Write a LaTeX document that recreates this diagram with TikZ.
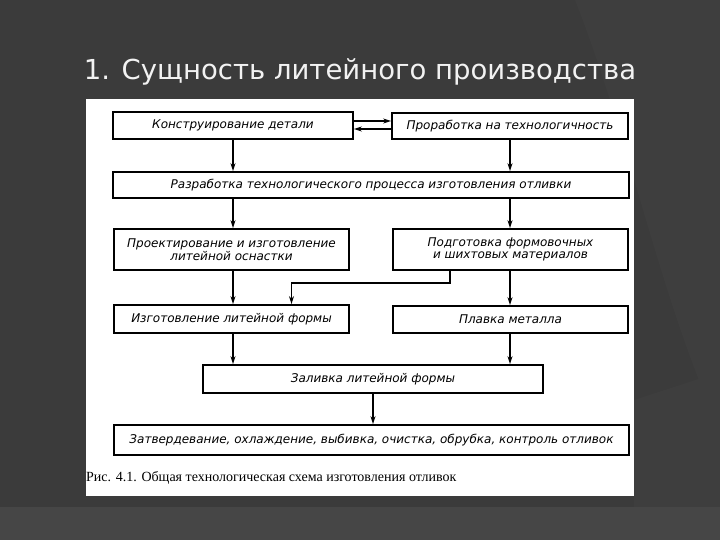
\documentclass[tikz,border=0pt]{standalone}
\usepackage{fontspec}
\setmainfont{Liberation Serif}
\newfontfamily\titlefont{DejaVu Sans}
\newfontfamily\gostfont{DejaVu Sans}
\usepackage{xcolor}
\usetikzlibrary{arrows.meta}
\definecolor{slide}{HTML}{3B3B3B}
\definecolor{slidelt}{HTML}{3E3E3E}
\definecolor{slideband}{HTML}{464646}
\definecolor{titlegr}{HTML}{F2F2F2}
\tikzset{
  blk/.style={draw,line width=1.8pt,inner sep=1pt,align=center,font=\gostfont\itshape\fontsize{12}{13}\selectfont},
  blkii/.style={blk,font=\gostfont\itshape\fontsize{12}{12.5}\selectfont},
  flow/.style={line width=1.3pt,-{Stealth[length=8pt,width=5pt]}},
  lnk/.style={line width=1.3pt}
}

\begin{document}
\begin{tikzpicture}[x=1pt,y=-1pt]
\useasboundingbox (0,0) rectangle (720,540);
% slide background
\fill[slide] (0,0) rectangle (720,540);
\fill[slidelt] (575,0) .. controls (630,140) and (660,300) .. (720,430) -- (720,0) -- cycle;
\fill[slidelt] (634,400) -- (720,372) -- (720,507) -- (634,507) -- cycle;
\fill[slideband] (0,507) rectangle (720,540);
\node[text=titlegr,font=\titlefont\fontsize{27.5}{30}\selectfont] (title) at (360,72) {1. Сущность литейного производства};
\fill[white] (86,99) rectangle (634,496);

% blocks
\node[blk,minimum width=240pt,minimum height=27pt,text depth=2pt] (konstr) at (233,125.5) {Конструирование детали};
\node[blk,minimum width=236pt,minimum height=26pt] (prorab) at (510,126) {Проработка на технологичность};
\node[blk,minimum width=516pt,minimum height=26pt] (razrab) at (371,185) {Разработка технологического процесса изготовления отливки};
\node[blkii,minimum width=235pt,minimum height=41pt] (osnast) at (231.5,249.5) {Проектирование и изготовление\\литейной оснастки};
\node[blkii,minimum width=235pt,minimum height=41pt] (podgot) at (510.5,249.5) {Подготовка формовочных\\и шихтовых материалов};
\node[blk,minimum width=235pt,minimum height=28pt] (forma) at (231.5,319) {Изготовление литейной формы};
\node[blk,minimum width=235pt,minimum height=27pt] (plavka) at (510.5,319.5) {Плавка металла};
\node[blk,minimum width=340pt,minimum height=28pt] (zaliv) at (373,379) {Заливка литейной формы};
\node[blk,minimum width=515pt,minimum height=30pt] (zatv) at (371.5,440) {Затвердевание, охлаждение, выбивка, очистка, обрубка, контроль отливок};
\node[anchor=west,inner sep=0pt,font=\fontsize{14}{15}\selectfont] (capt) at (86,478) {Рис. 4.1. Общая технологическая схема изготовления отливок};

% connectors
\draw[flow] ([yshift=4.5pt]konstr.east) -- ([yshift=4.5pt]konstr.east -| prorab.west);
\draw[flow] ([yshift=-3.5pt]konstr.east -| prorab.west) -- ([yshift=-3.5pt]konstr.east);
\draw[flow] (konstr.south) -- (konstr.south |- razrab.north);
\draw[flow] (prorab.south) -- (prorab.south |- razrab.north);
\draw[flow] (razrab.south -| konstr) -- (konstr |- osnast.north);
\draw[flow] (razrab.south -| prorab) -- (prorab |- podgot.north);
\draw[flow] (osnast.south -| konstr) -- (konstr |- forma.north);
\draw[flow] (podgot.south -| prorab) -- (prorab |- plavka.north);
\coordinate (jn) at (450,283);
\draw[flow] (podgot.south -| jn) -- (jn) -| ([xshift=60pt]forma.north);
\draw[flow] (forma.south -| konstr) -- (konstr |- zaliv.north);
\draw[flow] (plavka.south -| prorab) -- (prorab |- zaliv.north);
\draw[flow] (zaliv.south) -- (zaliv.south |- zatv.north);
\end{tikzpicture}
\end{document}
